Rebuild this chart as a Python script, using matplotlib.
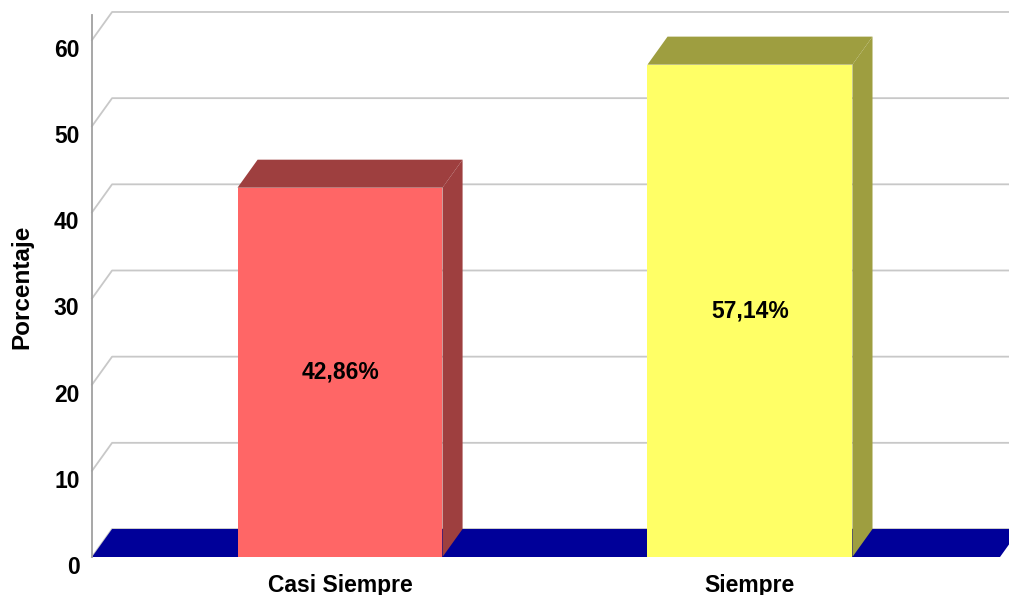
import matplotlib.pyplot as plt
import matplotlib.transforms as mtransforms
from matplotlib.patches import Polygon

plt.rcParams['font.family'] = ['Liberation Sans', 'DejaVu Sans']

categorias = ['Casi Siempre', 'Siempre']
porcentajes = [42.86, 57.14]
etiquetas = ['42,86%', '57,14%']
colores = ['#FF6666', '#FFFF66']
colores_osc = ['#9E3F3F', '#9E9E40']
yticks = [0, 10, 20, 30, 40, 50, 60]

ancho = 0.5      # ancho de barra
dx = 0.049       # profundidad en x
dy = 3.25        # profundidad en y
xl, xr = -0.605, 1.61

fig = plt.figure(figsize=(10.09, 5.95), dpi=100)
ax = fig.add_axes([92/1009, 38/595, (1000-92)/1009, (557-15)/595])
ax.set_xlim(xl, xr)
ax.set_ylim(0, 62.9)

# rejilla de la pared del fondo
for v in yticks:
    ax.plot([xl, xl + dx, xr + 0.2], [v, v + dy, v + dy], color='#C8C8C8',
            lw=1.3, clip_on=False, zorder=1)

# suelo azul
suelo = Polygon([(xl, 0), (xr, 0), (xr + dx, dy), (xl + dx, dy)],
                closed=True, fc='#000099', ec='none', clip_on=False, zorder=2)
ax.add_patch(suelo)

x = list(range(len(categorias)))
ax.bar(x, porcentajes, width=ancho, color=colores, zorder=3)
for i, h in enumerate(porcentajes):
    x0 = x[i] - ancho / 2
    x1 = x[i] + ancho / 2
    lado = Polygon([(x1, 0), (x1 + dx, dy), (x1 + dx, h + dy), (x1, h)],
                   closed=True, fc=colores_osc[i], ec='none', clip_on=False, zorder=3)
    arriba = Polygon([(x0, h), (x0 + dx, h + dy), (x1 + dx, h + dy), (x1, h)],
                     closed=True, fc=colores_osc[i], ec='none', clip_on=False, zorder=3)
    ax.add_patch(lado)
    ax.add_patch(arriba)
    ax.text(x[i], h / 2, etiquetas[i], ha='center', va='center',
            fontsize=16.5, fontweight='bold', zorder=4)

for s in ['top', 'right', 'bottom']:
    ax.spines[s].set_visible(False)
ax.spines['left'].set_color('#A0A0A0')
ax.spines['left'].set_linewidth(1.3)

ax.set_yticks(yticks)
ax.set_yticklabels([str(t) for t in yticks], fontsize=16.5, fontweight='bold')
ax.set_xticks(x)
ax.set_xticklabels(categorias, fontsize=16.5, fontweight='bold')
ax.tick_params(axis='y', length=0, pad=9)
ax.tick_params(axis='x', length=0, pad=12)
off = mtransforms.ScaledTranslation(0, -0.08, fig.dpi_scale_trans)
for lab in ax.get_yticklabels():
    lab.set_transform(lab.get_transform() + off)

fig.text(22/1009, 1 - 287/595, 'Porcentaje', rotation=90, ha='center', va='center',
         fontsize=17.5, fontweight='bold')

fig.savefig('out.png', dpi=100)
